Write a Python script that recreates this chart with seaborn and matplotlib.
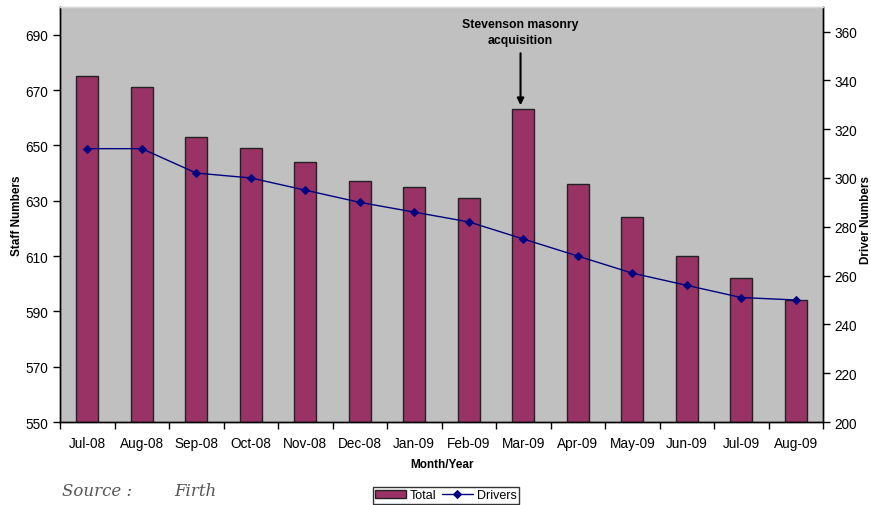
import matplotlib
matplotlib.use("Agg")
import matplotlib.pyplot as plt
import seaborn as sns
import pandas as pd

months = ["Jul-08", "Aug-08", "Sep-08", "Oct-08", "Nov-08", "Dec-08", "Jan-09",
          "Feb-09", "Mar-09", "Apr-09", "May-09", "Jun-09", "Jul-09", "Aug-09"]
total_staff = [675, 671, 653, 649, 644, 637, 635, 631, 663, 636, 624, 610, 602, 594]
drivers = [312, 312, 302, 300, 295, 290, 286, 282, 275, 268, 261, 256, 251, 250]

sns.set_theme(style="white")
plt.rcParams["font.family"] = ["Liberation Sans", "DejaVu Sans"]
plt.rcParams.update({"text.color": "black", "axes.labelcolor": "black",
                     "xtick.color": "black", "ytick.color": "black"})

df = pd.DataFrame({"month": months, "total": total_staff, "drivers": drivers})

fig = plt.figure(figsize=(8.71, 5.06), dpi=100)
ax = fig.add_axes([0.0689, 0.164, 0.876, 0.82])
ax.set_facecolor("#C0C0C0")

sns.barplot(data=df, x="month", y="total", color="#993366", width=0.41,
            edgecolor="#222222", linewidth=1.0, saturation=1, ax=ax,
            label="Total", legend=False)
ax.set_ylim(550, 700)
ax.set_yticks(range(550, 691, 20))
ax.set_xlim(-0.5, len(months) - 0.5)

ax2 = ax.twinx()
sns.lineplot(data=df, x="month", y="drivers", color="#000080", marker="D",
             markersize=4.5, markeredgecolor="#000080", linewidth=1.0,
             ax=ax2, label="Drivers", legend=False)
ax2.set_ylim(200, 370)
ax2.set_yticks(range(200, 361, 20))
ax2.set_xlim(-0.5, len(months) - 0.5)

# Category boundaries get the x tick marks; labels sit at bar centres
ax.set_xticks([i + 0.5 for i in range(-1, len(months))], minor=False)
ax.set_xticklabels([])
ax.set_xticks(range(len(months)), minor=True)
ax.set_xticklabels(months, minor=True, fontsize=9.8)
ax.tick_params(axis="x", which="major", direction="out", length=5, width=1,
               color="black", bottom=True)
ax.tick_params(axis="x", which="minor", length=0, pad=10)
ax.tick_params(axis="y", direction="out", length=5, width=1, color="black",
               left=True, labelsize=9.8)
ax2.tick_params(axis="y", direction="out", length=5, width=1, color="black",
                right=True, labelsize=9.8)

for a in (ax, ax2):
    for side in ("left", "bottom", "right"):
        a.spines[side].set_color("black")
        a.spines[side].set_linewidth(1.0)
    a.spines["top"].set_color("#D8D8D8")
    a.spines["top"].set_linewidth(1.0)

ax.set_xlabel("Month/Year", fontsize=8.5, fontweight="bold", labelpad=6)
ax.set_ylabel("Staff Numbers", fontsize=8.5, fontweight="bold",
              va="center", ha="center")
ax.yaxis.set_label_coords(-0.056, 0.5)
ax2.set_ylabel("Driver Numbers", fontsize=8.5, fontweight="bold", rotation=90,
               va="center", ha="center")
ax2.yaxis.set_label_coords(1.056, 0.49)

# Annotation for the March 2009 spike
mar_idx = months.index("Mar-09")
ax.annotate("Stevenson masonry\nacquisition",
            xy=(mar_idx - 0.05, total_staff[mar_idx] + 1.5),
            xytext=(mar_idx - 0.05, 686),
            ha="center", va="bottom", fontsize=8.8, fontweight="bold",
            linespacing=1.4,
            arrowprops=dict(arrowstyle="-|>", color="black", lw=1.5,
                            mutation_scale=10, shrinkA=3, shrinkB=0))

h1, l1 = ax.get_legend_handles_labels()
h2, l2 = ax2.get_legend_handles_labels()
leg = fig.legend(h1 + h2, l1 + l2, loc="center", bbox_to_anchor=(0.512, 0.019),
                 ncol=2, fontsize=9, frameon=True, fancybox=False,
                 edgecolor="black", borderpad=0.2, handlelength=2.5,
                 columnspacing=0.4, handletextpad=0.3)
leg.get_frame().set_linewidth(1.0)

fig.text(0.071, 0.02, "Source :", fontsize=12, style="italic",
         family="DejaVu Serif", color="#555555", va="baseline")
fig.text(0.200, 0.02, "Firth", fontsize=12, style="italic",
         family="DejaVu Serif", color="#555555", va="baseline")

fig.savefig("out.png", dpi=100)
